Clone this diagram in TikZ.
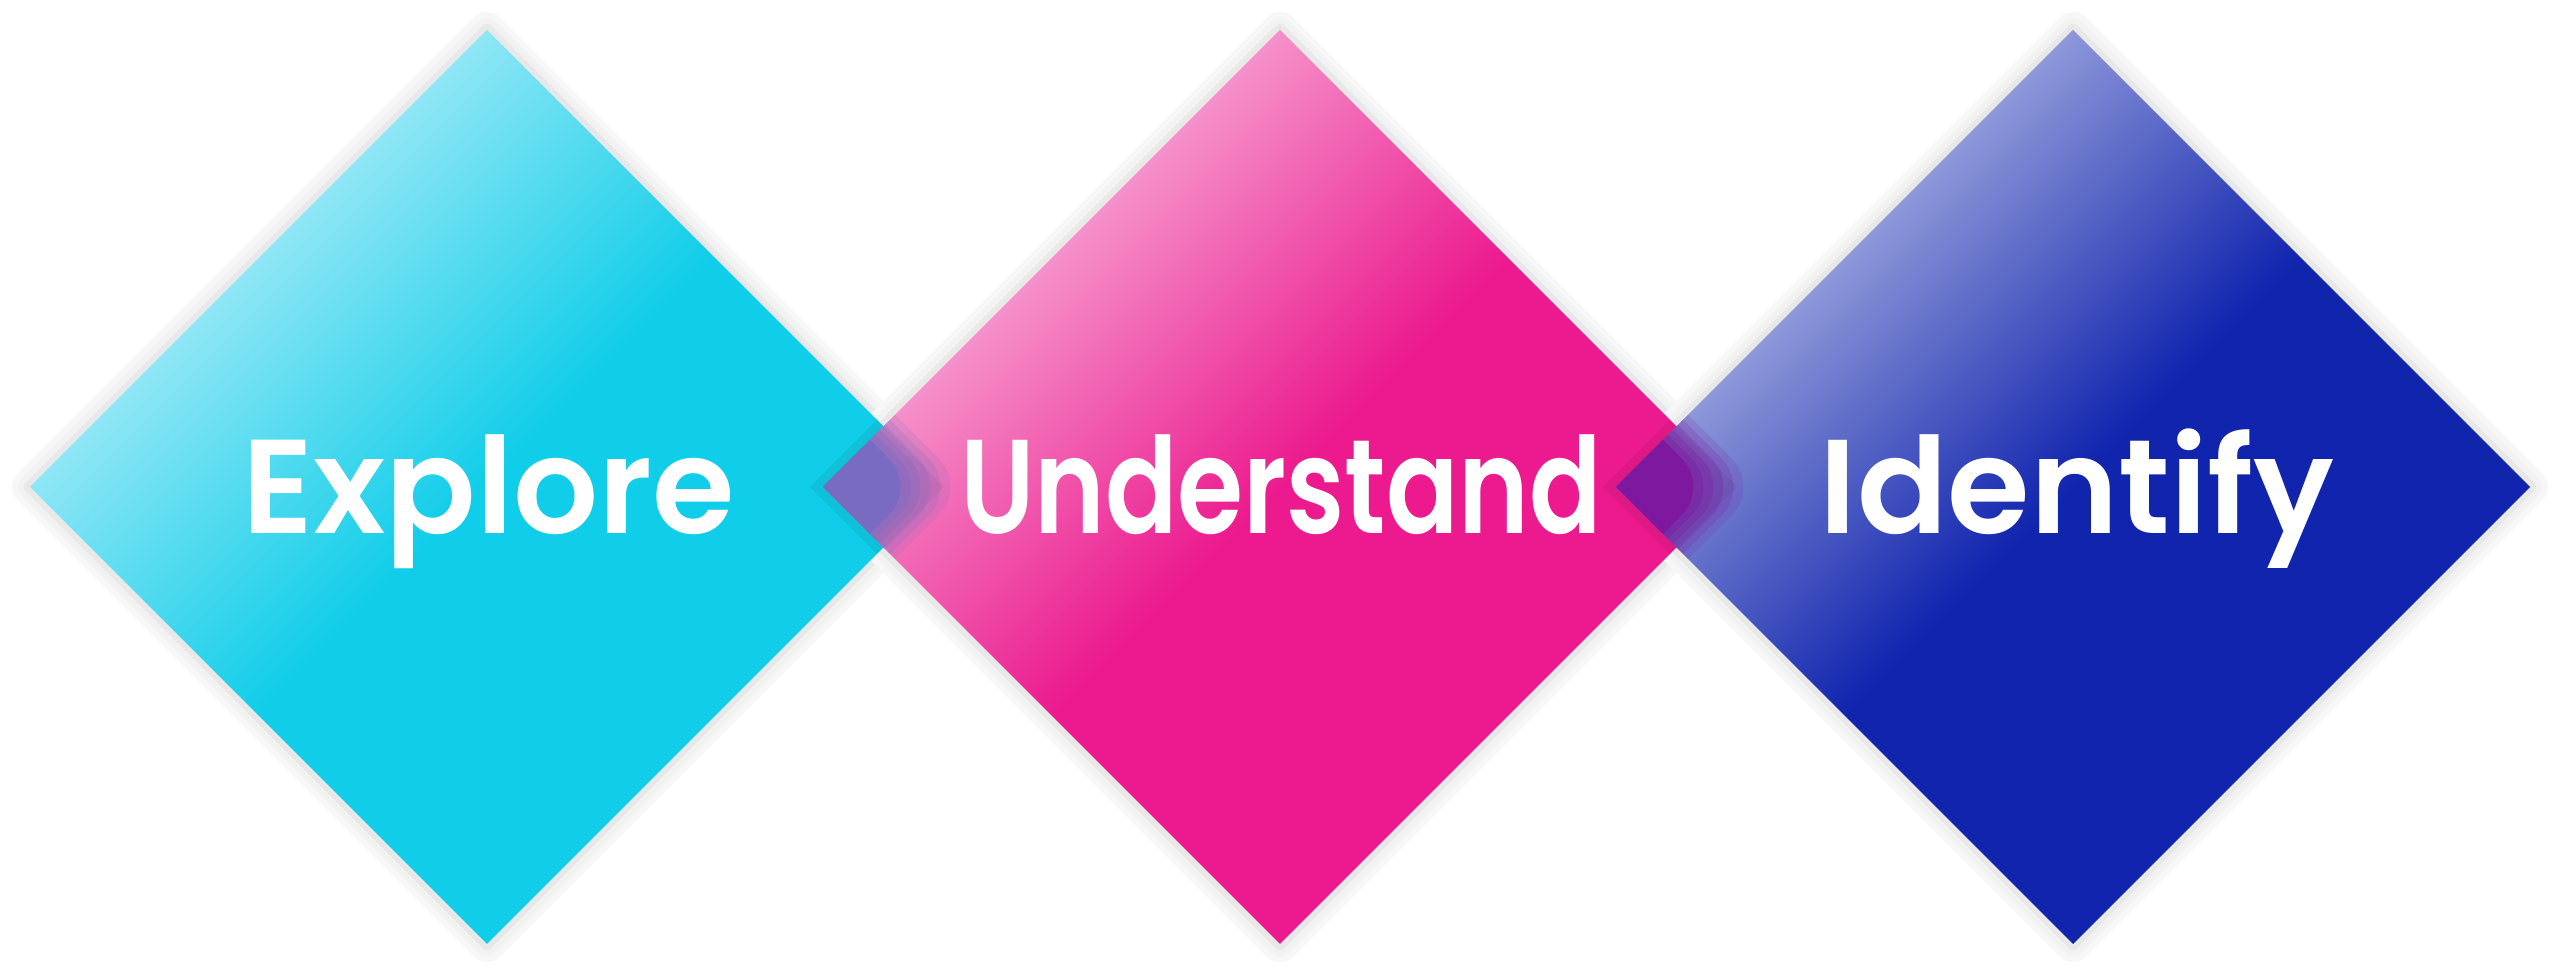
\documentclass[tikz,border=0pt]{standalone}
\usepackage{fontspec}
\IfFontExistsTF{Poppins SemiBold}{\setmainfont{Poppins SemiBold}}{\setmainfont{Poppins}[UprightFont=*-Bold]}

\definecolor{cyanlight}{HTML}{8EE6F5}
\definecolor{cyansolid}{HTML}{10CDE9}
\definecolor{pinklight}{HTML}{F590C9}
\definecolor{pinksolid}{HTML}{EC1A8E}
\definecolor{bluelight}{HTML}{8D97D9}
\definecolor{bluesolid}{HTML}{1024AE}
\definecolor{overlapA}{HTML}{7A6BC2}
\definecolor{overlapB}{HTML}{7D189F}

\newcommand{\dia}[2]{(#1-#2,4.9) -- (#1,4.9+#2) -- (#1+#2,4.9) -- (#1,4.9-#2) -- cycle}

\tikzset{
  word/.style={text=white, anchor=base, font=\fontsize{38pt}{40pt}\selectfont},
  halo/.style={line join=round}
}

\begin{document}
\begin{tikzpicture}
    \useasboundingbox (0,0) rectangle (25.6,9.77);
    \fill[white] (0,0) rectangle (25.6,9.77);
    \foreach \cx in {4.87,12.80,20.73} {
        \draw[halo, line width=0.36cm, black!3] \dia{\cx}{4.57};
        \draw[halo, line width=0.24cm, black!5] \dia{\cx}{4.57};
        \draw[halo, line width=0.12cm, black!9] \dia{\cx}{4.57};
    }
    \begin{scope}[transform canvas={shift={(4.87,4.9)},rotate=-45}]
        \shade[left color=cyanlight, right color=cyansolid, middle color=cyansolid] (-3.2315,-3.2315) rectangle (3.2315,3.2315);
    \end{scope}
    \begin{scope}[transform canvas={shift={(12.80,4.9)},rotate=-45}]
        \shade[left color=pinklight, right color=pinksolid, middle color=pinksolid] (-3.2315,-3.2315) rectangle (3.2315,3.2315);
    \end{scope}
    \begin{scope}[transform canvas={shift={(20.73,4.9)},rotate=-45}]
        \shade[left color=bluelight, right color=bluesolid, middle color=bluesolid] (-3.2315,-3.2315) rectangle (3.2315,3.2315);
    \end{scope}
    \begin{scope}
        \clip \dia{4.87}{4.57};
        \fill[black, opacity=0.06] \dia{12.80}{4.70};
    \end{scope}
    \begin{scope}
        \clip \dia{12.80}{4.57};
        \fill[black, opacity=0.06] \dia{20.73}{4.70};
    \end{scope}
    \begin{scope}
        \clip \dia{12.80}{4.57};
        \foreach \r/\o in {4.80/0.15,4.70/0.2,4.60/0.25,4.50/0.3,4.40/0.35} {
            \fill[overlapA, opacity=\o, rounded corners=0.4cm] \dia{4.87}{\r};
        }
        \fill[overlapA, rounded corners=0.4cm] \dia{4.87}{4.30};
    \end{scope}
    \begin{scope}
        \clip \dia{20.73}{4.57};
        \foreach \r/\o in {4.80/0.15,4.70/0.2,4.60/0.25,4.50/0.3,4.40/0.35} {
            \fill[overlapB, opacity=\o, rounded corners=0.4cm] \dia{12.80}{\r};
        }
        \fill[overlapB, rounded corners=0.4cm] \dia{12.80}{4.30};
    \end{scope}
    \node[word] (explore) at (4.89,4.43) {Explore};
    \node[word] (understand) at (12.81,4.43) {\scalebox{0.8}[1]{Understand}};
    \node[word] (identify) at (20.77,4.43) {Identify};
\end{tikzpicture}
\end{document}
